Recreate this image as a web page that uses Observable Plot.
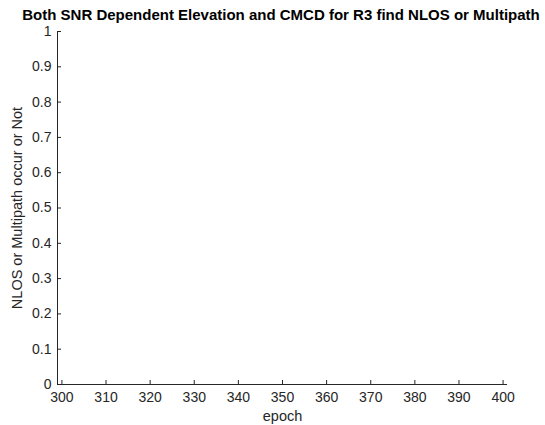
<!DOCTYPE html>
<html>
<head>
<meta charset="utf-8">
<script src="https://cdn.jsdelivr.net/npm/d3@7"></script>
<script src="https://cdn.jsdelivr.net/npm/@observablehq/plot@0.6"></script>
<style>
  html, body { margin: 0; padding: 0; background: #fff; }
  #wrap { position: relative; width: 545px; height: 425px; font-family: "Liberation Sans", Arial, Helvetica, sans-serif; }
  #title { position: absolute; top: 6px; left: 281px; transform: translateX(-50%); white-space: nowrap;
           font-weight: bold; font-size: 15px; color: #000; line-height: 17px; }
  #chart { position: absolute; top: 24px; left: 0; }
  #chart svg text { font-family: "Liberation Sans", Arial, Helvetica, sans-serif; font-size: 14px !important; }
  #chart svg g[aria-label="y-axis label"] text, #chart svg g[aria-label="x-axis label"] text { font-size: 14.5px !important; }
</style>
</head>
<body>
<div id="wrap">
  <div id="title"></div>
  <div id="chart"></div>
</div>
<script>
// Data: the reference plot shows no plotted points (empty series)
const epochs = [];
const nlosFlags = [];
const xTicks = [300, 310, 320, 330, 340, 350, 360, 370, 380, 390, 400];
const yTicks = [0, 0.1, 0.2, 0.3, 0.4, 0.5, 0.6, 0.7, 0.8, 0.9, 1];
const xDomain = [299, 401];
const yDomain = [0, 1];
const titleText = "Both SNR Dependent Elevation and CMCD for R3 find NLOS or Multipath";
const xLabel = "epoch";
const yLabel = "NLOS or Multipath occur or Not";

document.getElementById("title").textContent = titleText;

const points = epochs.map((e, i) => ({epoch: e, flag: nlosFlags[i]}));
const ink = "#262626";

const chart = Plot.plot({
  width: 545,
  height: 401,
  marginLeft: 57,
  marginRight: 38,
  marginTop: 7,
  marginBottom: 41,
  style: {fontFamily: '"Liberation Sans", Arial, Helvetica, sans-serif', color: ink, background: "#fff"},
  x: {domain: xDomain},
  y: {domain: yDomain},
  marks: [
    Plot.axisX({ticks: xTicks, tickSize: -4, tickPadding: 12, stroke: ink, strokeOpacity: 1, fill: ink,
      tickFormat: d3.format("d"), label: xLabel, labelAnchor: "center", labelOffset: 36, labelArrow: "none"}),
    Plot.axisY({ticks: yTicks, tickSize: -4, tickPadding: 10, stroke: ink, strokeOpacity: 1, fill: ink,
      tickFormat: d => d === 0 || d === 1 ? String(d) : d3.format(".1f")(d),
      label: yLabel, labelAnchor: "center", labelOffset: 46, labelArrow: "none"}),
    Plot.ruleY([yDomain[0]], {stroke: ink}),
    Plot.ruleX([xDomain[0]], {stroke: ink}),
    Plot.dot(points, {x: "epoch", y: "flag", stroke: "#0072BD"})
  ]
});
document.getElementById("chart").appendChild(chart);
</script>
</body>
</html>
